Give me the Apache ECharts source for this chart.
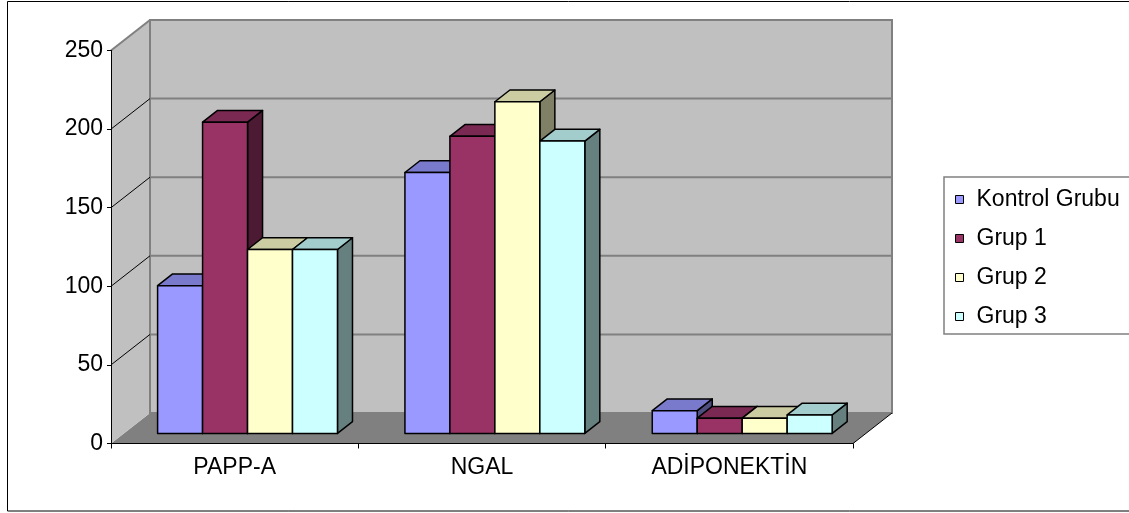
<!DOCTYPE html>
<html>
<head>
<meta charset="utf-8">
<script src="https://cdn.jsdelivr.net/npm/echarts@6/dist/echarts.min.js"></script>
<style>
  html, body { margin: 0; padding: 0; background: #fff; }
  #chart { width: 1129px; height: 513px; }
</style>
</head>
<body>
<div id="chart"></div>
<script>
// Categories, groups and measured values
const categories = ['PAPP-A', 'NGAL', 'ADİPONEKTİN'];
const groupNames = ['Kontrol Grubu', 'Grup 1', 'Grup 2', 'Grup 3'];
const kontrolGrubu = [94, 166, 14.5];
const grup1 = [198, 189, 9.7];
const grup2 = [117, 211, 9.7];
const grup3 = [117, 186, 11.8];
const yTicks = [0, 50, 100, 150, 200, 250];

const seriesValues = [kontrolGrubu, grup1, grup2, grup3];
const FONT = '"Liberation Sans", Arial, sans-serif';

// front / top / side shading of each 3D column
const faceColors = [
  { front: '#9999FF', top: '#7A7ACC', side: '#4D4D80' },
  { front: '#993366', top: '#7A2952', side: '#4D1A33' },
  { front: '#FFFFCC', top: '#CCCCA3', side: '#808066' },
  { front: '#CCFFFF', top: '#A3CCCC', side: '#668080' }
];

// oblique projection: offset from the front plane to the back wall
const DEPTH = [39, -30.5];
const BAR_FRONT = 0.33;   // depth position of the column front faces
const BAR_DEPTH = 0.385;  // depth of a column
const GAP = 1.5;          // gap between clusters, in column widths

function wallRenderer(params, api) {
  const cs = params.coordSys;
  const L = cs.x, R = cs.x + cs.width, T = cs.y, B = cs.y + cs.height;
  const dx = DEPTH[0], dy = DEPTH[1];
  const children = [
    { type: 'polygon', shape: { points: [[L, B], [L + dx, B + dy], [R + dx, B + dy], [R, B]] },
      style: { fill: '#808080' } },
    { type: 'polygon', shape: { points: [[L, T], [L + dx, T + dy], [L + dx, B + dy], [L, B]] },
      style: { fill: '#C0C0C0' } },
    { type: 'rect', shape: { x: L + dx, y: T + dy, width: R - L, height: B - T },
      style: { fill: '#C0C0C0', stroke: '#808080', lineWidth: 2 } }
  ];
  const maxTick = yTicks[yTicks.length - 1];
  yTicks.forEach(function (t) {
    if (t <= 0 || t >= maxTick) return;
    const y = api.coord([0, t])[1];
    children.push({ type: 'line', shape: { x1: L + dx, y1: y + dy, x2: R + dx, y2: y + dy },
      style: { stroke: '#808080', lineWidth: 2 } });
    children.push({ type: 'line', shape: { x1: L, y1: y, x2: L + dx, y2: y + dy },
      style: { stroke: '#000', lineWidth: 1 } });
  });
  children.push({ type: 'line', shape: { x1: L, y1: T, x2: L + dx, y2: T + dy },
    style: { stroke: '#808080', lineWidth: 2 } });
  children.push({ type: 'line', shape: { x1: R, y1: B, x2: R + dx, y2: B + dy },
    style: { stroke: '#000', lineWidth: 1 } });
  return { type: 'group', children: children };
}

function barRenderer(s) {
  const c = faceColors[s];
  return function (params, api) {
    const cat = api.value(0), v = api.value(1);
    const band = api.size([1, 0])[0];
    const w = band / (groupNames.length + GAP);
    const base = api.coord([cat, 0]);
    const top = api.coord([cat, v]);
    const x0 = base[0] - band / 2 + w * GAP / 2 + s * w + DEPTH[0] * BAR_FRONT;
    const yb = base[1] + DEPTH[1] * BAR_FRONT;
    const yt = top[1] + DEPTH[1] * BAR_FRONT;
    const dx = DEPTH[0] * BAR_DEPTH, dy = DEPTH[1] * BAR_DEPTH;
    const edge = { stroke: '#000', lineWidth: 1.5, lineJoin: 'round' };
    return {
      type: 'group',
      children: [
        { type: 'polygon', shape: { points: [[x0 + w, yt], [x0 + w + dx, yt + dy], [x0 + w + dx, yb + dy], [x0 + w, yb]] },
          style: Object.assign({ fill: c.side }, edge) },
        { type: 'polygon', shape: { points: [[x0, yt], [x0 + dx, yt + dy], [x0 + w + dx, yt + dy], [x0 + w, yt]] },
          style: Object.assign({ fill: c.top }, edge) },
        { type: 'rect', shape: { x: x0, y: yt, width: w, height: yb - yt },
          style: Object.assign({ fill: c.front }, edge) }
      ]
    };
  };
}

const series = [{
  type: 'custom',
  name: 'walls',
  renderItem: wallRenderer,
  data: [[0, 0]],
  encode: { x: 0, y: 1 },
  z: 1,
  silent: true
}];
seriesValues.forEach(function (vals, s) {
  series.push({
    type: 'custom',
    name: groupNames[s],
    renderItem: barRenderer(s),
    data: vals.map(function (v, i) { return [i, v]; }),
    encode: { x: 0, y: 1 },
    itemStyle: { color: faceColors[s].front },
    z: 2 + s
  });
});

const chart = echarts.init(document.getElementById('chart'), null, { renderer: 'canvas' });
chart.setOption({
  animation: false,
  backgroundColor: '#fff',
  grid: { left: 111, top: 50.5, width: 742, height: 393, outerBoundsMode: 'none' },
  xAxis: {
    type: 'category',
    data: categories,
    boundaryGap: true,
    z: 10,
    axisLine: { show: true, lineStyle: { color: '#000', width: 1 } },
    axisTick: { show: true, length: 5, lineStyle: { color: '#000', width: 1 } },
    axisLabel: { fontFamily: FONT, fontSize: 23, color: '#000', margin: 13 },
    splitLine: { show: false }
  },
  yAxis: {
    type: 'value',
    min: 0, max: 250, interval: 50,
    z: 10,
    axisLine: { show: true, lineStyle: { color: '#000', width: 1 } },
    axisTick: { show: true, length: 4, lineStyle: { color: '#000', width: 1 } },
    axisLabel: { fontFamily: FONT, fontSize: 23, color: '#000', margin: 8 },
    splitLine: { show: false }
  },
  legend: {
    orient: 'vertical',
    left: 944, top: 177,
    itemWidth: 8, itemHeight: 8, itemGap: 16,
    padding: [11, 40, 6, 11],
    borderColor: '#808080', borderWidth: 1.5,
    selectedMode: false,
    textStyle: { fontFamily: FONT, fontSize: 23, color: '#000', padding: [0, 0, 0, 8] },
    data: groupNames.map(function (n, i) {
      return { name: n, icon: 'rect', itemStyle: { color: faceColors[i].front, borderColor: '#000', borderWidth: 1 } };
    })
  },
  graphic: [{
    type: 'rect', silent: true, z: -1,
    shape: { x: 7.5, y: 1.5, width: 1200, height: 509.5 },
    style: { fill: null, stroke: '#000', lineWidth: 1 }
  }],
  series: series
});
</script>
</body>
</html>
